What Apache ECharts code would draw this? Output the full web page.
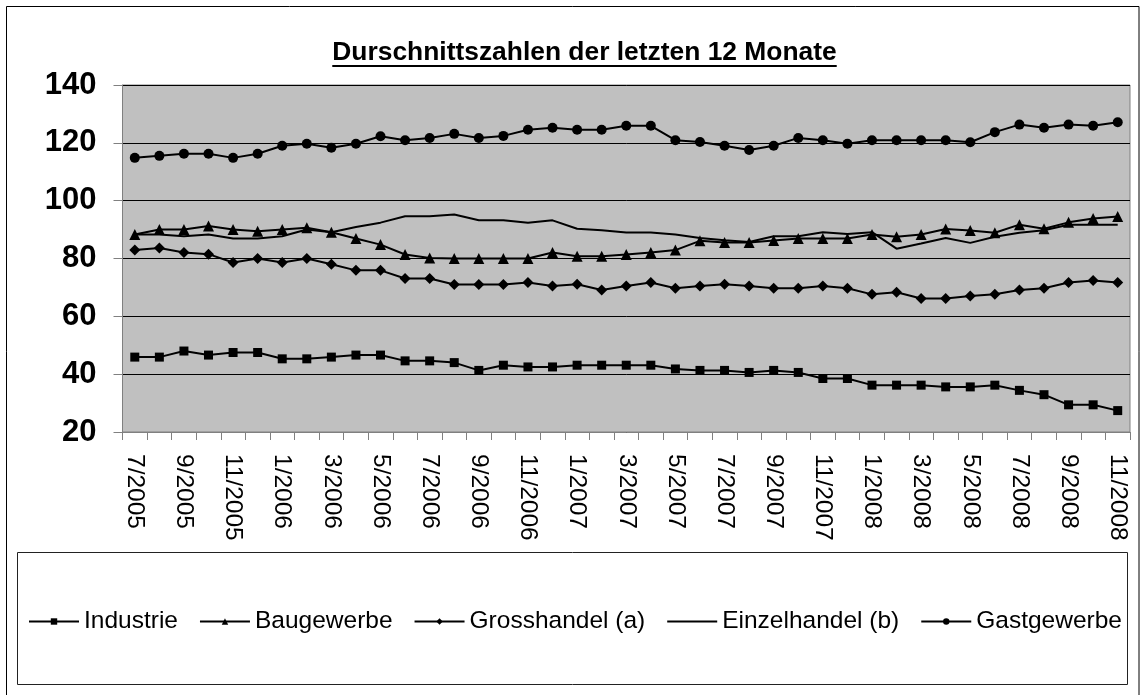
<!DOCTYPE html>
<html>
<head>
<meta charset="utf-8">
<script src="https://cdn.jsdelivr.net/npm/echarts@6/dist/echarts.min.js"></script>
<style>
html,body{margin:0;padding:0;background:#fff;}
#chart{width:1146px;height:695px;}
</style>
</head>
<body>
<div id="chart"></div>
<script>
const titleText = 'Durschnittszahlen der letzten 12 Monate';
const categories = [
 '7/2005','8/2005','9/2005','10/2005','11/2005','12/2005',
 '1/2006','2/2006','3/2006','4/2006','5/2006','6/2006','7/2006','8/2006','9/2006','10/2006','11/2006','12/2006',
 '1/2007','2/2007','3/2007','4/2007','5/2007','6/2007','7/2007','8/2007','9/2007','10/2007','11/2007','12/2007',
 '1/2008','2/2008','3/2008','4/2008','5/2008','6/2008','7/2008','8/2008','9/2008','10/2008','11/2008'
];
const yTicks = [20, 40, 60, 80, 100, 120, 140];
const industrie = [45.9,45.9,48.0,46.6,47.5,47.5,45.3,45.3,45.9,46.6,46.6,44.6,44.6,44.0,41.3,43.1,42.5,42.5,43.1,43.1,43.1,43.1,41.8,41.3,41.3,40.6,41.3,40.6,38.5,38.5,36.2,36.2,36.2,35.6,35.6,36.2,34.4,32.9,29.4,29.4,27.4];
const baugewerbe = [88.3,90.0,90.0,91.2,90.0,89.4,90.0,90.6,89.1,86.9,84.8,81.4,80.2,80.0,80.0,80.0,80.0,82.1,80.8,80.8,81.4,82.1,82.9,86.1,85.5,85.5,86.2,86.9,86.9,86.9,88.3,87.5,88.3,90.2,89.7,88.9,91.7,90.3,92.5,93.8,94.5];
const grosshandel = [82.9,83.6,82.1,81.5,78.6,80.0,78.6,80.0,78.0,75.9,75.9,73.1,73.1,71.0,71.0,71.0,71.7,70.5,71.1,69.1,70.5,71.7,69.7,70.5,71.1,70.5,69.7,69.7,70.5,69.7,67.6,68.3,66.2,66.2,67.0,67.6,69.1,69.7,71.7,72.4,71.7];
const einzelhandel = [88.3,88.3,87.7,88.3,86.9,86.9,87.7,90.0,89.1,90.9,92.4,94.6,94.6,95.2,93.2,93.2,92.4,93.2,90.3,89.8,89.0,89.0,88.3,87.1,86.3,85.7,87.7,87.7,89.1,88.5,89.1,83.4,85.2,87.1,85.4,87.5,88.9,89.8,91.7,91.7,91.7];
const gastgewerbe = [114.8,115.5,116.2,116.2,114.8,116.2,119.0,119.7,118.3,119.7,122.3,120.9,121.7,123.1,121.7,122.4,124.5,125.2,124.5,124.5,125.9,125.9,120.9,120.3,119.0,117.5,119.0,121.7,120.9,119.7,120.9,120.9,120.9,120.9,120.2,123.7,126.3,125.2,126.3,125.9,127.1];
const seriesNames = ['Industrie','Baugewerbe','Grosshandel (a)','Einzelhandel (b)','Gastgewerbe'];

const FONT = "'Liberation Sans', Arial, sans-serif";
const chart = echarts.init(document.getElementById('chart'), null, {renderer: 'canvas'});

const cv = document.createElement('canvas').getContext('2d');
cv.font = 'bold 26.4px ' + FONT;
const tw = cv.measureText(titleText).width;
const tcx = 584.5;

function mk(name, data, symbol, size) {
  return {
    name: name, type: 'line', data: data,
    symbol: symbol, symbolSize: size, showSymbol: symbol !== 'none',
    lineStyle: {color: '#000', width: 2},
    itemStyle: {color: '#000', borderColor: '#000', borderWidth: 0},
    emphasis: {disabled: true},
    animation: false, z: 3
  };
}

chart.setOption({
  backgroundColor: '#fff',
  animation: false,
  graphic: [
    {type: 'rect', z: -10, shape: {x: 6.5, y: 6.5, width: 1132.5, height: 700}, style: {fill: '#fff', stroke: '#000', lineWidth: 1}},
    {type: 'rect', z: -9, shape: {x: 17.5, y: 552.5, width: 1110, height: 132}, style: {fill: '#fff', stroke: '#222', lineWidth: 1}},
    {type: 'text', z: 10, x: tcx, y: 53, style: {text: titleText, font: 'bold 26.4px ' + FONT, fill: '#000', align: 'center', verticalAlign: 'middle'}},
    {type: 'line', z: 10, shape: {x1: tcx - tw / 2, y1: 66, x2: tcx + tw / 2, y2: 66}, style: {stroke: '#000', lineWidth: 2}}
  ],
  grid: {left: 122.5, right: 16, top: 85, bottom: 263, show: true, backgroundColor: '#c0c0c0', borderColor: '#808080', borderWidth: 1, containLabel: false},
  legend: {
    data: [
      {name: seriesNames[0]},
      {name: seriesNames[1]},
      {name: seriesNames[2]},
      {name: seriesNames[3], itemStyle: {opacity: 0}},
      {name: seriesNames[4]}
    ],
    left: 23, top: 604, orient: 'horizontal',
    itemWidth: 50, itemHeight: 8, itemGap: 21,
    textStyle: {fontFamily: FONT, fontSize: 24.5, color: '#000'},
    selectedMode: false
  },
  xAxis: {
    type: 'category', data: categories, boundaryGap: true,
    axisLine: {show: true, lineStyle: {color: '#808080', width: 1}},
    axisTick: {show: true, interval: 0, length: 8, lineStyle: {color: '#808080'}},
    axisLabel: {interval: 1, rotate: -90, margin: 22, fontFamily: FONT, fontSize: 24.5, color: '#000'},
    splitLine: {show: false}
  },
  yAxis: {
    type: 'value', min: yTicks[0], max: yTicks[yTicks.length - 1], interval: 20,
    axisLine: {show: true, lineStyle: {color: '#808080', width: 1}},
    axisTick: {show: true, length: 9, lineStyle: {color: '#808080'}},
    axisLabel: {margin: 26, fontFamily: FONT, fontSize: 31, fontWeight: 'bold', color: '#000'},
    splitLine: {show: true, lineStyle: {color: '#000', width: 1}}
  },
  series: [
    mk(seriesNames[0], industrie, 'rect', 9),
    mk(seriesNames[1], baugewerbe, 'triangle', 11),
    mk(seriesNames[2], grosshandel, 'diamond', 11),
    mk(seriesNames[3], einzelhandel, 'none', 0),
    mk(seriesNames[4], gastgewerbe, 'circle', 10)
  ]
});
</script>
</body>
</html>
